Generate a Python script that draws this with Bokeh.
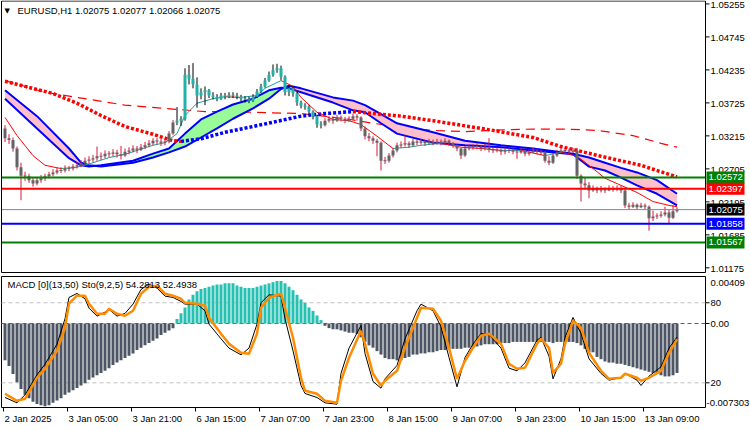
import numpy as np
from bokeh.plotting import figure
from bokeh.models import Range1d
from bokeh.core.properties import value
from bokeh.embed import file_html
from bokeh.resources import INLINE

FONT = "Liberation Sans"
FS = "9.5px"

# ---------------- data ----------------
first_open = 1.0333
closes = [
    1.0318, 1.0315, 1.0302, 1.0273, 1.0260, 1.0259, 1.0253, 1.0248, 1.0253, 1.0256,
    1.0259, 1.0262, 1.0265, 1.0268, 1.0268, 1.0271, 1.0271, 1.0274, 1.0276, 1.0279,
    1.0283, 1.0285, 1.0287, 1.0290, 1.0290, 1.0294, 1.0294, 1.0296, 1.0293, 1.0291,
    1.0297, 1.0299, 1.0302, 1.0300, 1.0304, 1.0307, 1.0310, 1.0314, 1.0313, 1.0311,
    1.0313, 1.0325, 1.0342, 1.0345, 1.0348, 1.0416, 1.0410, 1.0401, 1.0384, 1.0389,
    1.0392, 1.0384, 1.0382, 1.0379, 1.0384, 1.0382, 1.0385, 1.0384, 1.0382, 1.0379,
    1.0378, 1.0376, 1.0382, 1.0390, 1.0398, 1.0407, 1.0416, 1.0423, 1.0426, 1.0413,
    1.0389, 1.0395, 1.0387, 1.0373, 1.0368, 1.0367, 1.0359, 1.0352, 1.0339, 1.0338,
    1.0345, 1.0348, 1.0345, 1.0350, 1.0348, 1.0345, 1.0348, 1.0352, 1.0350, 1.0333,
    1.0321, 1.0318, 1.0314, 1.0311, 1.0283, 1.0283, 1.0291, 1.0299, 1.0307, 1.0308,
    1.0310, 1.0307, 1.0313, 1.0311, 1.0313, 1.0310, 1.0313, 1.0311, 1.0313, 1.0311,
    1.0314, 1.0310, 1.0307, 1.0302, 1.0291, 1.0302, 1.0304, 1.0305, 1.0305, 1.0302,
    1.0304, 1.0300, 1.0299, 1.0300, 1.0297, 1.0299, 1.0299, 1.0297, 1.0296, 1.0299,
    1.0294, 1.0296, 1.0299, 1.0297, 1.0296, 1.0283, 1.0280, 1.0291, 1.0296, 1.0299,
    1.0299, 1.0297, 1.0299, 1.0260, 1.0248, 1.0245, 1.0237, 1.0240, 1.0237, 1.0239,
    1.0237, 1.0240, 1.0239, 1.0240, 1.0237, 1.0214, 1.0212, 1.0215, 1.0211, 1.0214,
    1.0212, 1.0194, 1.0197, 1.0198, 1.0200, 1.0203, 1.0195, 1.0205, 1.02075,
]
highs = [
    1.0338, 1.0324, 1.0319, 1.0305, 1.0280, 1.0266, 1.0263, 1.0257, 1.0258, 1.0261,
    1.0263, 1.0266, 1.0270, 1.0272, 1.0273, 1.0276, 1.0275, 1.0278, 1.0281, 1.0284,
    1.0288, 1.0290, 1.0292, 1.0305, 1.0296, 1.0299, 1.0298, 1.0301, 1.0300, 1.0306,
    1.0302, 1.0304, 1.0307, 1.0306, 1.0309, 1.0312, 1.0315, 1.0318, 1.0318, 1.0317,
    1.0317, 1.0329, 1.0346, 1.0366, 1.0352, 1.0426, 1.0431, 1.0434, 1.0412, 1.0395,
    1.0398, 1.0394, 1.0389, 1.0386, 1.0388, 1.0388, 1.0389, 1.0389, 1.0388, 1.0385,
    1.0383, 1.0382, 1.0386, 1.0394, 1.0402, 1.0411, 1.0421, 1.0432, 1.0433, 1.0430,
    1.0415, 1.0399, 1.0398, 1.0390, 1.0376, 1.0372, 1.0369, 1.0361, 1.0354, 1.0344,
    1.0349, 1.0352, 1.0351, 1.0354, 1.0353, 1.0351, 1.0352, 1.0356, 1.0355, 1.0352,
    1.0336, 1.0326, 1.0321, 1.0317, 1.0313, 1.0289, 1.0295, 1.0303, 1.0311, 1.0313,
    1.0322, 1.0313, 1.0317, 1.0316, 1.0317, 1.0315, 1.0317, 1.0316, 1.0317, 1.0316,
    1.0318, 1.0316, 1.0312, 1.0308, 1.0303, 1.0306, 1.0308, 1.0309, 1.0310, 1.0307,
    1.0309, 1.0318, 1.0304, 1.0304, 1.0302, 1.0303, 1.0303, 1.0302, 1.0300, 1.0303,
    1.0300, 1.0300, 1.0303, 1.0302, 1.0300, 1.0298, 1.0290, 1.0295, 1.0300, 1.0303,
    1.0303, 1.0302, 1.0303, 1.0303, 1.0262, 1.0258, 1.0250, 1.0245, 1.0243, 1.0244,
    1.0242, 1.0245, 1.0244, 1.0245, 1.0244, 1.0240, 1.0218, 1.0219, 1.0217, 1.0218,
    1.0217, 1.0214, 1.0206, 1.0202, 1.0205, 1.0212, 1.0208, 1.0214, 1.0211,
]
lows = [
    1.0312, 1.0309, 1.0297, 1.0268, 1.0222, 1.0252, 1.0249, 1.0243, 1.0245, 1.0249,
    1.0252, 1.0256, 1.0259, 1.0262, 1.0264, 1.0265, 1.0267, 1.0268, 1.0271, 1.0273,
    1.0277, 1.0279, 1.0281, 1.0283, 1.0284, 1.0287, 1.0289, 1.0290, 1.0288, 1.0285,
    1.0289, 1.0293, 1.0296, 1.0295, 1.0298, 1.0301, 1.0304, 1.0307, 1.0308, 1.0306,
    1.0307, 1.0310, 1.0323, 1.0338, 1.0337, 1.0345, 1.0401, 1.0395, 1.0365, 1.0378,
    1.0369, 1.0380, 1.0378, 1.0375, 1.0377, 1.0378, 1.0380, 1.0380, 1.0378, 1.0375,
    1.0373, 1.0372, 1.0374, 1.0380, 1.0388, 1.0396, 1.0405, 1.0413, 1.0419, 1.0408,
    1.0384, 1.0383, 1.0382, 1.0368, 1.0364, 1.0362, 1.0354, 1.0347, 1.0334, 1.0333,
    1.0336, 1.0342, 1.0340, 1.0343, 1.0344, 1.0341, 1.0343, 1.0346, 1.0345, 1.0329,
    1.0316, 1.0313, 1.0309, 1.0290, 1.0268, 1.0278, 1.0280, 1.0288, 1.0296, 1.0303,
    1.0305, 1.0303, 1.0305, 1.0307, 1.0308, 1.0306, 1.0308, 1.0307, 1.0308, 1.0307,
    1.0309, 1.0306, 1.0303, 1.0298, 1.0286, 1.0289, 1.0299, 1.0300, 1.0301, 1.0298,
    1.0299, 1.0296, 1.0295, 1.0296, 1.0292, 1.0293, 1.0295, 1.0293, 1.0286, 1.0294,
    1.0290, 1.0291, 1.0295, 1.0293, 1.0292, 1.0280, 1.0276, 1.0278, 1.0289, 1.0294,
    1.0295, 1.0293, 1.0295, 1.0255, 1.0220, 1.0240, 1.0225, 1.0235, 1.0233, 1.0234,
    1.0233, 1.0236, 1.0235, 1.0236, 1.0233, 1.0210, 1.0208, 1.0210, 1.0207, 1.0210,
    1.0208, 1.0175, 1.0190, 1.0193, 1.0195, 1.0197, 1.0186, 1.0193, 1.0203,
]
macd_hist = [
    -0.0032, -0.0037, -0.0044, -0.0051, -0.0057, -0.0062, -0.0065, -0.0068, -0.0070, -0.0071,
    -0.0072, -0.0071, -0.0069, -0.0067, -0.0065, -0.0062, -0.0060, -0.0058, -0.0056, -0.0054,
    -0.0052, -0.0049, -0.0047, -0.0045, -0.0043, -0.0041, -0.0039, -0.0036, -0.0034, -0.0032,
    -0.0030, -0.0028, -0.0026, -0.0023, -0.0021, -0.0019, -0.0017, -0.0015, -0.0013, -0.0010,
    -0.0008, -0.0006, -0.0004, 0.0004, 0.0009, 0.0014, 0.0021, 0.0025, 0.0028, 0.0030,
    0.0031, 0.0032, 0.0033, 0.0034, 0.0034, 0.0035, 0.0035, 0.0035, 0.0033, 0.0032,
    0.0031, 0.0031, 0.0031, 0.0032, 0.0033, 0.0034, 0.0035, 0.0036, 0.0037, 0.0037,
    0.0035, 0.0032, 0.0029, 0.0025, 0.0021, 0.0018, 0.0014, 0.0011, 0.0007, 0.0003,
    -0.0002, -0.0004, -0.0005, -0.0005, -0.0006, -0.0007, -0.0008, -0.0008, -0.0009, -0.0012,
    -0.0016, -0.0019, -0.0021, -0.0024, -0.0027, -0.0030, -0.0031, -0.0031, -0.0032, -0.0032,
    -0.0030, -0.0029, -0.0027, -0.0027, -0.0026, -0.0026, -0.0025, -0.0025, -0.0024, -0.0023,
    -0.0023, -0.0022, -0.0022, -0.0022, -0.0022, -0.0021, -0.0021, -0.0021, -0.0020, -0.0019,
    -0.0018, -0.0018, -0.0018, -0.0018, -0.0017, -0.0017, -0.0017, -0.0016, -0.0016, -0.0016,
    -0.0016, -0.0016, -0.0016, -0.0016, -0.0016, -0.0016, -0.0016, -0.0017, -0.0016, -0.0016,
    -0.0016, -0.0016, -0.0016, -0.0017, -0.0019, -0.0022, -0.0025, -0.0025, -0.0029, -0.0031,
    -0.0033, -0.0034, -0.0034, -0.0035, -0.0035, -0.0036, -0.0037, -0.0038, -0.0039, -0.0040,
    -0.0041, -0.0042, -0.0043, -0.0044, -0.0045, -0.0046, -0.0046, -0.0045, -0.0043,
]
sto_bars = [0, 3, 5, 8, 10, 13, 15, 16, 18, 20, 21, 23, 25, 26, 28, 30, 32, 34, 36, 38,
            40, 42, 44, 45, 48, 50, 51, 54, 56, 59, 61, 63, 64, 66, 69, 70, 72, 74, 75, 78,
            80, 83, 84, 86, 89, 90, 92, 94, 95, 98, 100, 103, 104, 107, 109, 111, 113, 115, 117, 119,
            121, 124, 126, 128, 130, 133, 134, 136, 137, 139, 140, 142, 144, 146, 149, 151, 154, 155, 158, 159,
            161, 164, 166, 168]
sto_sig = [11.8, 6.5, 8.0, 23.8, 30.5, 44.0, 61.3, 79.3, 85.3, 85.3, 79.3, 71.8, 71.8, 75.5, 71.8, 70.3, 74.0, 86.8, 92.0, 92.8,
           86.8, 85.3, 83.0, 80.0, 79.3, 77.8, 68.8, 56.8, 49.3, 42.5, 41.8, 56.8, 76.3, 83.8, 86.8, 76.3, 53.8, 23.8, 14.0, 11.8,
           6.5, 5.0, 21.5, 38.8, 59.0, 49.3, 26.8, 17.8, 21.5, 29.0, 46.3, 68.8, 76.3, 75.5, 66.5, 46.3, 23.0, 36.5, 46.3, 55.3,
           56.8, 49.3, 34.3, 30.5, 31.3, 49.3, 53.0, 46.3, 27.5, 34.3, 49.3, 66.5, 61.3, 42.5, 29.0, 23.0, 23.8, 26.8, 23.8, 21.5,
           23.8, 29.0, 42.5, 52.4938]
sto_main = [9, 5, 11, 26, 34, 49, 68, 84, 87, 83, 76, 70, 73, 75, 70, 72, 79, 90, 94, 91,
            85, 84, 81, 79, 79, 74, 64, 53, 46, 41, 46, 64, 80, 86, 85, 68, 44, 18, 12, 9,
            5, 4, 27, 46, 63, 42, 21, 16, 23, 33, 53, 74, 79, 74, 62, 39, 17, 39, 49, 57,
            56, 46, 31, 29, 35, 52, 54, 40, 23, 38, 54, 69, 57, 38, 27, 22, 24, 27, 22, 18,
            25, 32, 46, 54.2813]
rib_bars = [0, 8, 16, 19, 21, 24, 32, 37, 41, 45, 49, 53, 57, 62, 66, 69, 71, 74, 82, 87,
            90, 94, 98, 107, 115, 124, 132, 142, 146, 150, 154, 158, 163, 168]
rib_fast = [1.0379, 1.0333, 1.0287, 1.0276, 1.0274, 1.0276, 1.0283, 1.0294, 1.0302, 1.0325,
            1.0347, 1.0359, 1.0370, 1.0379, 1.0392, 1.0396, 1.0395, 1.0389, 1.0373, 1.0361,
            1.0358, 1.0341, 1.0325, 1.0311, 1.0307, 1.0304, 1.0299, 1.0293, 1.0274, 1.0268,
            1.0257, 1.0245, 1.0232, 1.0214]
rib_slow = [1.0392, 1.0352, 1.0302, 1.0280, 1.0276, 1.0274, 1.0280, 1.0288, 1.0296, 1.0305,
            1.0319, 1.0333, 1.0348, 1.0364, 1.0379, 1.0394, 1.0399, 1.0395, 1.0381, 1.0376,
            1.0369, 1.0355, 1.0341, 1.0327, 1.0314, 1.0307, 1.0302, 1.0294, 1.0288, 1.0280,
            1.0272, 1.0265, 1.0253, 1.0232]
ma_fast_bars = [0, 3, 7, 10, 14, 18, 22, 26, 30, 33, 37, 40, 43, 45, 48, 52, 55, 59, 63, 65,
                69, 72, 74, 78, 82, 86, 89, 93, 97, 101, 104, 109, 114, 119, 124, 129, 135, 139, 143, 147,
                150, 154, 158, 162, 166, 168]
ma_fast = [1.0350, 1.0322, 1.0291, 1.0276, 1.0271, 1.0273, 1.0280, 1.0288, 1.0293, 1.0299,
           1.0307, 1.0311, 1.0325, 1.0353, 1.0372, 1.0379, 1.0382, 1.0381, 1.0384, 1.0395,
           1.0407, 1.0398, 1.0381, 1.0358, 1.0347, 1.0345, 1.0339, 1.0321, 1.0302, 1.0304,
           1.0307, 1.0310, 1.0304, 1.0302, 1.0299, 1.0299, 1.0291, 1.0296, 1.0290, 1.0271,
           1.0256, 1.0245, 1.0234, 1.0220, 1.0214, 1.0212]
ma_dot_bars = [0, 5, 12, 18, 24, 30, 37, 42, 44, 49, 55, 62, 68, 74, 80, 87, 89, 99, 107, 114,
               122, 132, 139, 149, 159, 168]
ma_dot = [1.0406, 1.0398, 1.0387, 1.0372, 1.0353, 1.0336, 1.0324, 1.0314, 1.0313, 1.0317,
          1.0327, 1.0336, 1.0344, 1.0352, 1.0356, 1.0359, 1.0358, 1.0352, 1.0345, 1.0338,
          1.0330, 1.0319, 1.0305, 1.0290, 1.0276, 1.0258]
ma_dash_bars = [0, 10, 20, 30, 40, 50, 62, 74, 85, 92, 100, 107, 115, 125, 132, 140, 148, 157, 164, 168]
ma_dash = [1.0407, 1.0389, 1.0379, 1.0369, 1.0364, 1.0359, 1.0358, 1.0356, 1.0348, 1.0341,
           1.0334, 1.0330, 1.0328, 1.0331, 1.0332, 1.0332, 1.0330, 1.0322, 1.0310, 1.0304]

price_ticks = [1.05255, 1.04745, 1.04235, 1.03725, 1.03215, 1.02705, 1.02195, 1.01685, 1.01175]
level_prices = [1.02572, 1.02397, 1.02075, 1.01858, 1.01567]
level_colors = ["#008000", "#ff0000", "#778899", "#0000ff", "#008000"]
level_widths = [2, 2, 1, 2, 2]
level_tag_bg = ["#008000", "#ff0000", "#000000", "#0000ff", "#008000"]
time_ticks = [0, 16, 32, 48, 64, 80, 96, 112, 128, 144, 160]
time_labels = ["2 Jan 2025", "3 Jan 05:00", "3 Jan 21:00", "6 Jan 15:00", "7 Jan 07:00", "7 Jan 23:00",
               "8 Jan 15:00", "9 Jan 07:00", "9 Jan 23:00", "10 Jan 15:00", "13 Jan 09:00"]
title_text = "EURUSD,H1  1.02075 1.02077 1.02066 1.02075"
sub_title = "MACD [0](13,50)  Sto(9,2,5) 54.2813 52.4938"
sto_levels = [80, 20]
sub_top_label = "0.00409"
sub_bot_label = "-0.007303"

# ---------------- layout (canvas pixels -> data) ----------------
W, H = 750, 430
PXB = 4.0                      # pixels per bar
B0 = -1.125                    # bar coordinate at canvas x = 0
P_TOP = 1.05308                # price at canvas y = 0
P_PX = 0.0001546               # price per pixel
SUB_T, SUB_B = 276, 407        # sub pane frame (canvas y)
M_LO, M_HI = -0.007303, 0.00409
M_PX = (M_HI - M_LO) / (SUB_B - SUB_T)
S_LO, S_HI = 1.5, 99.7
FR_L, FR_R = 1, 705            # frame left/right (canvas x)
MAIN_B = 272


def bx(px):
    return B0 + px / PXB


def py(px):
    return P_TOP - px * P_PX


def my(px):
    return M_HI - (px - SUB_T) * M_PX


def sto_to_m(s):
    return M_LO + (s - S_LO) / (S_HI - S_LO) * (M_HI - M_LO)


n = len(closes)
bars = list(range(n))
opens = [first_open] + closes[:-1]

p = figure(width=W, height=H, x_range=Range1d(bx(0), bx(W)), y_range=Range1d(py(H), py(0)),
           output_backend="svg", toolbar_location=None, x_axis_location=None, y_axis_location=None,
           min_border=0, min_border_left=0, min_border_right=0, min_border_top=0, min_border_bottom=0)
p.extra_y_ranges = {"m": Range1d(my(H), my(0))}
p.grid.visible = False
p.outline_line_color = None
p.background_fill_color = "white"
p.border_fill_color = "white"


def split_ribbon(xs, f, s):
    res = {"g": ([], []), "p": ([], [])}
    for k in range(len(xs) - 1):
        d0 = f[k] - s[k]
        d1 = f[k + 1] - s[k + 1]
        a = (xs[k], f[k], s[k])
        b = (xs[k + 1], f[k + 1], s[k + 1])
        if d0 * d1 < 0:
            t = d0 / (d0 - d1)
            xc = a[0] + t * (b[0] - a[0])
            yc = a[1] + t * (b[1] - a[1])
            c = (xc, yc, yc)
            pieces = [(a, c, d0), (c, b, d1)]
        else:
            pieces = [(a, b, d0 + d1)]
        for u, v, d in pieces:
            key = "g" if d >= 0 else "p"
            res[key][0].append([u[0], v[0], v[0], u[0]])
            res[key][1].append([u[1], v[1], v[2], u[2]])
    return res


def direction_runs(xs, ys):
    runs = []
    cx, cy, cd = [xs[0]], [ys[0]], None
    for k in range(1, len(xs)):
        d = ys[k] >= ys[k - 1]
        if cd is None or d == cd:
            cx.append(xs[k]); cy.append(ys[k]); cd = d
        else:
            runs.append((cx, cy, cd))
            cx, cy, cd = [xs[k - 1], xs[k]], [ys[k - 1], ys[k]], d
    runs.append((cx, cy, cd))
    return runs

# ---------- main pane ----------
p.line(ma_dash_bars, ma_dash, line_color="#ff0000", line_width=1.2, line_dash="9 6")

rb = split_ribbon(rib_bars, rib_fast, rib_slow)
if rb["p"][0]:
    p.patches(rb["p"][0], rb["p"][1], fill_color="#ffc0cb", line_color=None)
if rb["g"][0]:
    p.patches(rb["g"][0], rb["g"][1], fill_color="#98fb98", line_color=None)
p.line(rib_bars, rib_fast, line_color="#0000ff", line_width=2)
p.line(rib_bars, rib_slow, line_color="#0000ff", line_width=2)

for xs, ys, up in direction_runs(ma_dot_bars, ma_dot):
    p.line(xs, ys, line_color="#0000ff" if up else "#ff0000", line_width=3.5, line_dash="3 2")

for xs, ys, up in direction_runs(ma_fast_bars, ma_fast):
    p.line(xs, ys, line_color="#1e9e96" if up else "#ff0000", line_width=1)

body_col = ["#20b2aa" if h > 0 else "#646464" for h in macd_hist]
wick_col = ["#000000" if h > 0 else "#dc143c" for h in macd_hist]
body_top = []
body_bot = []
for o, c in zip(opens, closes):
    hi, lo = max(o, c), min(o, c)
    if hi - lo < P_PX:
        mid = (hi + lo) / 2
        hi, lo = mid + P_PX / 2, mid - P_PX / 2
    body_top.append(hi)
    body_bot.append(lo)
p.segment(bars, highs, bars, lows, line_color=wick_col, line_width=1)
p.vbar(x=bars, top=body_top, bottom=body_bot, width=0.75, fill_color=body_col, line_color=None)

# horizontal levels
for pr, lc, lw in zip(level_prices, level_colors, level_widths):
    p.segment(bx(FR_L), pr, bx(FR_R), pr, line_color=lc, line_width=lw)

# frames
def frame(top, bot, yname="default"):
    kw = {} if yname == "default" else {"y_range_name": yname}
    xs0 = [bx(FR_L), bx(FR_L), bx(FR_R), bx(FR_L)]
    xs1 = [bx(FR_R), bx(FR_L), bx(FR_R), bx(FR_R)]
    ys0 = [top, top, top, bot]
    ys1 = [top, bot, bot, bot]
    p.segment(xs0, ys0, xs1, ys1, line_color="black", line_width=1, **kw)

frame(py(0.5), py(MAIN_B))
frame(my(SUB_T), my(SUB_B), "m")

# price axis
p.segment([bx(FR_R)] * len(price_ticks), price_ticks, [bx(FR_R + 4)] * len(price_ticks), price_ticks,
          line_color="black", line_width=1)
p.text([bx(FR_R + 5)] * len(price_ticks), [t - 1.5 * P_PX for t in price_ticks],
       text=[f"{t:.5f}" for t in price_ticks], text_font=value(FONT), text_font_size=FS,
       text_baseline="middle", text_align="left", text_color="black")

# price tags
p.rect(x=[bx(FR_R + 20)] * len(level_prices), y=level_prices, width=38 / PXB, height=12 * P_PX,
       fill_color=level_tag_bg, line_color=None)
p.text([bx(FR_R + 3)] * len(level_prices), level_prices, text=[f"{v:.5f}" for v in level_prices],
       text_font=value(FONT), text_font_size=FS, text_baseline="middle", text_align="left",
       text_color="white")

# title
p.text([bx(4)], [py(10)], text=["\u25bc"], text_font=value("DejaVu Sans"), text_font_size="7px",
       text_baseline="middle", text_align="left", text_color="black")
p.text([bx(17)], [py(10)], text=[title_text], text_font=value(FONT), text_font_size=FS,
       text_baseline="middle", text_align="left", text_color="black")

# ---------- sub pane ----------
p.segment(bx(FR_L), 0.0, bx(FR_R), 0.0, line_color="#5a6372", line_width=1, line_dash="4 3",
          y_range_name="m")
for lv in sto_levels:
    p.segment(bx(FR_L), sto_to_m(lv), bx(FR_R), sto_to_m(lv), line_color="#c0c0c0", line_width=1,
              line_dash="4 3", y_range_name="m")

hist_col = ["#26c1b3" if h > 0 else "#4e5665" for h in macd_hist]
p.vbar(x=bars, top=macd_hist, bottom=0, width=0.75, fill_color=hist_col, line_color=None,
       y_range_name="m")

p.line(sto_bars, [sto_to_m(v) for v in sto_main], line_color="black", line_width=1,
       y_range_name="m")
p.line(sto_bars, [sto_to_m(v) for v in sto_sig], line_color="#ff8c00", line_width=2.5,
       y_range_name="m")

p.text([bx(7)], [my(284)], text=[sub_title], text_font=value(FONT), text_font_size=FS,
       text_baseline="middle", text_align="left", text_color="black", y_range_name="m")

# sub axis
sub_tick_vals = [sto_to_m(80), 0.0, sto_to_m(20)]
p.segment([bx(FR_R)] * 3, sub_tick_vals, [bx(FR_R + 4)] * 3, sub_tick_vals, line_color="black",
          line_width=1, y_range_name="m")
sub_txt = [sub_top_label, "80", "0.00", "20", sub_bot_label]
sub_y = [my(282), sto_to_m(80), 0.0, sto_to_m(20), my(402.5)]
sub_x = [bx(FR_R + 5)] * 4 + [bx(FR_R + 1)]
p.text(sub_x, sub_y, text=sub_txt, text_font=value(FONT), text_font_size=FS,
       text_baseline="middle", text_align="left", text_color="black", y_range_name="m")

# time axis
tick_x = [t - 1.5 / PXB for t in time_ticks]
p.segment(tick_x, [my(SUB_B)] * len(time_ticks), tick_x, [my(SUB_B + 4)] * len(time_ticks),
          line_color="black", line_width=1, y_range_name="m")
p.text([t + 1 / PXB for t in tick_x], [my(418)] * len(time_ticks), text=time_labels,
       text_font=value(FONT), text_font_size=FS, text_baseline="middle", text_align="left",
       text_color="black", y_range_name="m")

open("out.html", "w").write(file_html(p, INLINE))
